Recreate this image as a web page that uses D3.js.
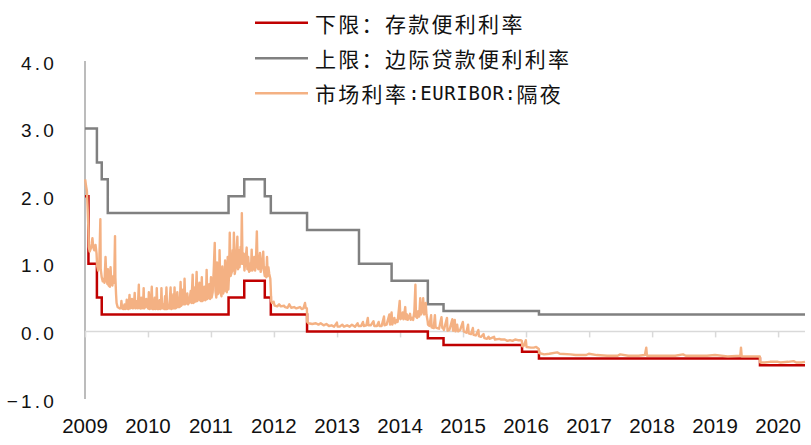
<!DOCTYPE html>
<html><head><meta charset="utf-8">
<script src="https://cdn.jsdelivr.net/npm/d3@7"></script>
<style>html,body{margin:0;padding:0;background:#fff;}svg{display:block;}</style>
</head><body>
<svg id="chart" width="811" height="445"></svg>
<script>
// ---------- DATA ----------
const yearTicks = ["2009","2010","2011","2012","2013","2014","2015","2016","2017","2018","2019","2020"];
const yTicks = [-1, 0, 1, 2, 3, 4];
const seriesNames = ["下限：存款便利利率", "上限：边际贷款便利利率", "市场利率:EURIBOR:隔夜"];

const lowerDates = ["2009-01-01","2009-01-21","2009-03-11","2009-04-08","2011-04-13","2011-07-13","2011-11-09","2011-12-14","2012-07-11","2014-06-11","2014-09-10","2015-12-09","2016-03-16","2019-09-18","2020-06-05"];
const lowerValues = [2.00,1.00,0.50,0.25,0.50,0.75,0.50,0.25,0.00,-0.10,-0.20,-0.30,-0.40,-0.50,-0.50];

const upperDates = ["2009-01-01","2009-03-11","2009-04-08","2009-05-13","2011-04-13","2011-07-13","2011-11-09","2011-12-14","2012-07-11","2013-05-08","2013-11-13","2014-06-11","2014-09-10","2016-03-16","2020-06-05"];
const upperValues = [3.00,2.50,2.25,1.75,2.00,2.25,2.00,1.75,1.50,1.00,0.75,0.40,0.30,0.25,0.25];

const euribor = [
["2009-01-02",2.25],["2009-01-07",2.15],["2009-01-12",2.08],["2009-01-16",1.85],["2009-01-21",1.50],["2009-01-23",1.25],["2009-01-28",1.18],
["2009-02-03",1.22],["2009-02-09",1.30],["2009-02-13",1.38],["2009-02-18",1.24],["2009-02-24",1.20],
["2009-03-03",1.28],["2009-03-09",1.15],["2009-03-12",0.98],["2009-03-18",0.90],["2009-03-25",1.02],["2009-03-31",1.66],["2009-04-02",0.92],
["2009-04-08",0.80],["2009-04-14",0.74],["2009-04-20",0.78],["2009-04-24",0.72],["2009-04-30",1.10],["2009-05-05",0.78],
["2009-05-11",0.70],["2009-05-14",0.92],["2009-05-18",0.68],["2009-05-25",0.66],["2009-05-29",0.95],["2009-06-03",0.70],
["2009-06-09",0.68],["2009-06-15",0.82],["2009-06-19",0.72],["2009-06-24",1.41],["2009-06-26",0.80],["2009-06-30",0.55],
["2009-07-03",0.42],["2009-07-09",0.36],["2009-07-15",0.35],["2009-07-22",0.34],["2009-07-28",0.35],["2009-07-31",0.45],["2009-08-04",0.34],
["2009-08-12",0.33],["2009-08-18",0.40],["2009-08-21",0.33],["2009-08-27",0.34],["2009-08-31",0.47],["2009-09-03",0.34],
["2009-09-10",0.33],["2009-09-16",0.54],["2009-09-19",0.34],["2009-09-25",0.35],["2009-09-30",0.48],["2009-10-05",0.34],
["2009-10-11",0.36],["2009-10-16",0.57],["2009-10-20",0.34],["2009-10-26",0.35],["2009-10-30",0.45],["2009-11-03",0.34],
["2009-11-09",0.69],["2009-11-12",0.35],["2009-11-18",0.34],["2009-11-23",0.50],["2009-11-26",0.34],
["2009-12-03",0.35],["2009-12-07",0.64],["2009-12-10",0.34],["2009-12-16",0.36],["2009-12-22",0.48],["2009-12-28",0.36],
["2010-01-02",0.34],["2010-01-06",0.58],["2010-01-10",0.33],["2010-01-16",0.34],["2010-01-23",0.66],["2010-01-27",0.33],
["2010-02-03",0.33],["2010-02-09",0.50],["2010-02-13",0.33],["2010-02-18",0.34],["2010-02-21",0.64],["2010-02-25",0.33],
["2010-03-03",0.33],["2010-03-09",0.46],["2010-03-13",0.33],["2010-03-17",0.34],["2010-03-20",0.64],["2010-03-24",0.34],["2010-03-31",0.40],
["2010-04-05",0.33],["2010-04-10",0.52],["2010-04-14",0.33],["2010-04-18",0.65],["2010-04-22",0.33],["2010-04-28",0.35],
["2010-05-03",0.34],["2010-05-08",0.48],["2010-05-12",0.65],["2010-05-16",0.33],["2010-05-22",0.34],["2010-05-28",0.55],
["2010-06-01",0.34],["2010-06-04",0.65],["2010-06-08",0.34],["2010-06-14",0.35],["2010-06-20",0.58],["2010-06-25",0.36],["2010-06-30",0.50],
["2010-07-04",0.36],["2010-07-09",0.73],["2010-07-13",0.38],["2010-07-18",0.40],["2010-07-24",0.62],["2010-07-28",0.40],
["2010-08-01",0.78],["2010-08-05",0.40],["2010-08-11",0.42],["2010-08-17",0.56],["2010-08-21",0.40],["2010-08-28",0.43],
["2010-09-06",0.60],["2010-09-10",0.42],["2010-09-17",0.84],["2010-09-21",0.42],["2010-09-27",0.44],["2010-09-30",0.65],
["2010-10-04",0.44],["2010-10-10",0.88],["2010-10-14",0.45],["2010-10-20",0.48],["2010-10-26",0.72],["2010-10-30",0.46],
["2010-11-04",0.45],["2010-11-09",0.80],["2010-11-13",0.45],["2010-11-19",0.48],["2010-11-24",0.66],["2010-11-28",0.46],
["2010-12-03",0.47],["2010-12-07",0.91],["2010-12-11",0.48],["2010-12-17",0.50],["2010-12-22",0.70],["2010-12-27",0.48],
["2011-01-01",0.80],["2011-01-05",0.50],["2011-01-11",0.58],["2011-01-17",0.90],["2011-01-23",1.31],["2011-01-27",0.60],
["2011-02-01",0.50],["2011-02-05",1.02],["2011-02-10",0.55],["2011-02-16",0.60],["2011-02-20",1.20],["2011-02-25",0.58],
["2011-03-03",0.52],["2011-03-08",0.96],["2011-03-13",0.56],["2011-03-19",0.62],["2011-03-24",1.05],["2011-03-29",0.60],
["2011-04-03",0.58],["2011-04-08",1.10],["2011-04-12",0.62],["2011-04-16",0.85],["2011-04-20",1.46],["2011-04-25",0.82],
["2011-05-02",0.88],["2011-05-07",1.20],["2011-05-10",0.90],["2011-05-14",1.46],["2011-05-19",0.85],["2011-05-25",0.95],
["2011-06-03",1.40],["2011-06-07",0.92],["2011-06-12",1.20],["2011-06-16",0.95],["2011-06-22",1.25],["2011-06-25",1.00],["2011-06-29",1.75],["2011-07-03",1.00],
["2011-07-10",1.15],["2011-07-14",0.90],["2011-07-20",1.05],["2011-07-27",1.24],["2011-07-31",0.92],
["2011-08-05",1.10],["2011-08-10",0.88],["2011-08-16",1.00],["2011-08-21",0.90],["2011-08-25",1.21],["2011-08-29",0.90],
["2011-09-04",0.95],["2011-09-09",1.10],["2011-09-14",0.90],["2011-09-19",1.05],["2011-09-24",1.48],["2011-09-28",0.95],
["2011-10-03",0.92],["2011-10-08",1.05],["2011-10-12",1.16],["2011-10-16",0.88],["2011-10-22",0.95],["2011-10-31",1.18],
["2011-11-04",0.90],["2011-11-09",0.82],["2011-11-14",0.95],["2011-11-18",0.80],["2011-11-22",1.10],["2011-11-26",0.82],["2011-11-30",0.95],
["2011-12-05",0.85],["2011-12-11",0.78],["2011-12-14",0.60],["2011-12-16",0.45],["2011-12-21",0.42],["2011-12-30",0.44],
["2012-01-05",0.38],["2012-01-20",0.37],["2012-01-31",0.40],["2012-02-10",0.37],["2012-02-29",0.38],["2012-03-05",0.36],["2012-03-20",0.35],["2012-03-30",0.40],
["2012-04-10",0.35],["2012-04-27",0.36],["2012-05-10",0.34],["2012-05-31",0.36],["2012-06-10",0.33],["2012-06-20",0.34],["2012-06-29",0.42],["2012-07-03",0.35],["2012-07-10",0.34],
["2012-07-12",0.14],["2012-07-20",0.12],["2012-08-10",0.11],["2012-08-31",0.12],["2012-09-15",0.10],["2012-09-28",0.12],["2012-10-15",0.09],["2012-10-31",0.11],
["2012-11-15",0.08],["2012-11-30",0.09],["2012-12-15",0.07],["2012-12-31",0.13],
["2013-01-04",0.07],["2013-01-15",0.07],["2013-01-31",0.10],["2013-02-10",0.07],["2013-02-28",0.09],["2013-03-15",0.07],["2013-03-28",0.10],["2013-04-15",0.07],["2013-04-30",0.12],
["2013-05-05",0.08],["2013-05-20",0.08],["2013-05-31",0.14],["2013-06-05",0.08],["2013-06-20",0.09],["2013-06-28",0.20],["2013-07-02",0.09],["2013-07-15",0.09],["2013-07-31",0.15],
["2013-08-05",0.08],["2013-08-20",0.08],["2013-08-30",0.14],["2013-09-04",0.08],["2013-09-16",0.08],["2013-09-30",0.22],["2013-10-03",0.09],["2013-10-15",0.10],["2013-10-31",0.25],
["2013-11-04",0.10],["2013-11-13",0.28],["2013-11-17",0.10],["2013-11-29",0.20],["2013-12-04",0.12],["2013-12-13",0.17],["2013-12-18",0.14],["2013-12-30",0.45],
["2014-01-03",0.18],["2014-01-10",0.20],["2014-01-16",0.28],["2014-01-21",0.18],["2014-01-31",0.36],["2014-02-04",0.18],["2014-02-10",0.25],["2014-02-14",0.17],["2014-02-20",0.20],["2014-02-28",0.26],
["2014-03-04",0.17],["2014-03-12",0.20],["2014-03-18",0.17],["2014-03-25",0.30],["2014-03-31",0.69],["2014-04-03",0.22],["2014-04-10",0.20],["2014-04-16",0.30],["2014-04-22",0.22],["2014-04-28",0.49],
["2014-05-02",0.25],["2014-05-09",0.30],["2014-05-15",0.49],["2014-05-20",0.25],["2014-05-26",0.27],["2014-05-30",0.42],["2014-06-03",0.25],["2014-06-10",0.15],
["2014-06-12",0.10],["2014-06-20",0.08],["2014-06-30",0.24],["2014-07-03",0.06],["2014-07-15",0.05],["2014-07-22",0.24],["2014-07-26",0.06],["2014-08-05",0.05],["2014-08-15",0.04],["2014-08-29",0.21],
["2014-09-03",0.05],["2014-09-10",0.04],["2014-09-12",0.02],["2014-09-30",0.20],["2014-10-03",0.01],["2014-10-14",0.02],["2014-10-31",0.18],["2014-11-04",0.01],["2014-11-14",0.17],["2014-11-18",0.00],
["2014-11-28",0.10],["2014-12-03",0.00],["2014-12-15",0.02],["2014-12-31",0.14],
["2015-01-05",0.00],["2015-01-20",-0.02],["2015-01-30",0.10],["2015-02-03",-0.03],["2015-02-16",-0.04],["2015-02-27",0.05],["2015-03-03",-0.05],["2015-03-16",-0.06],["2015-03-31",0.02],
["2015-04-03",-0.07],["2015-04-15",-0.08],["2015-04-30",-0.04],["2015-05-05",-0.10],["2015-05-20",-0.11],["2015-05-29",-0.08],["2015-06-03",-0.11],["2015-06-30",-0.08],["2015-07-05",-0.12],
["2015-07-31",-0.11],["2015-08-10",-0.12],["2015-08-31",-0.12],["2015-09-15",-0.14],["2015-09-30",-0.13],["2015-10-15",-0.14],["2015-10-30",-0.12],["2015-11-15",-0.13],["2015-11-30",-0.13],
["2015-12-08",-0.14],["2015-12-10",-0.22],["2015-12-20",-0.21],["2015-12-31",-0.13],
["2016-01-04",-0.23],["2016-01-29",-0.24],["2016-02-15",-0.24],["2016-02-29",-0.23],["2016-03-15",-0.26],["2016-03-17",-0.32],["2016-04-15",-0.34],["2016-05-15",-0.33],["2016-06-30",-0.31],
["2016-07-15",-0.33],["2016-09-15",-0.34],["2016-10-15",-0.35],["2016-12-15",-0.35],["2016-12-30",-0.33],
["2017-02-15",-0.35],["2017-04-15",-0.36],["2017-06-15",-0.36],["2017-06-30",-0.34],["2017-08-15",-0.36],["2017-10-15",-0.36],["2017-11-20",-0.35],["2017-11-28",-0.24],["2017-12-02",-0.36],
["2018-03-15",-0.36],["2018-05-15",-0.36],["2018-06-29",-0.34],["2018-07-15",-0.36],["2018-09-15",-0.36],["2018-11-15",-0.36],["2018-12-31",-0.35],
["2019-03-15",-0.37],["2019-05-27",-0.36],["2019-05-31",-0.24],["2019-06-04",-0.37],["2019-07-15",-0.37],["2019-09-17",-0.37],["2019-09-19",-0.46],["2019-10-15",-0.46],
["2019-11-15",-0.45],["2019-12-31",-0.45],["2020-01-15",-0.46],["2020-02-28",-0.45],["2020-03-31",-0.44],["2020-04-15",-0.46],["2020-05-15",-0.46],["2020-06-05",-0.45]
];

const colors = ["#c00000", "#808080", "#f4b183"];

// ---------- CHART ----------
const parse = d3.timeParse("%Y-%m-%d");
const svg = d3.select("#chart");
const x = d3.scaleTime().domain([parse("2009-01-01"), parse("2020-06-05")]).range([85, 805]);
const y = d3.scaleLinear().domain([-1, 4]).range([399, 61]);

// y axis line
svg.append("line").attr("x1", x.range()[0]).attr("x2", x.range()[0])
  .attr("y1", y(4)).attr("y2", y(-1)).attr("stroke", "#a6a6a6").attr("stroke-width", 1.5);

// y labels
svg.append("g").selectAll("text").data(yTicks).join("text")
  .attr("x", 57).attr("y", d => y(d) + 2)
  .attr("text-anchor", "end").attr("dominant-baseline", "central")
  .style("font-family", "'Liberation Sans', Arial, sans-serif").style("font-size", "19px")
  .style("letter-spacing", "3.2px").attr("fill", "#111")
  .text(d => (d < 0 ? "\u2212" : "") + d3.format(".1f")(Math.abs(d)));

// zero line (category axis) with ticks
const xAxis = d3.axisBottom(x)
  .tickValues(yearTicks.map(t => parse(t + "-01-01")))
  .tickSize(6).tickFormat("");
const gx = svg.append("g").attr("transform", `translate(0,${y(0)})`).call(xAxis);
gx.select(".domain").attr("stroke", "#d9d9d9").attr("stroke-width", 1.5).attr("d", `M${x.range()[0]},0H${x.range()[1]}`);
gx.selectAll(".tick line").attr("stroke", "#d9d9d9").attr("stroke-width", 1.5);

// x labels
svg.append("g").selectAll("text").data(yearTicks).join("text")
  .attr("x", d => x(parse(d + "-01-01"))).attr("y", 433)
  .attr("text-anchor", "middle")
  .style("font-family", "'Liberation Sans', Arial, sans-serif").style("font-size", "20.5px")
  .attr("fill", "#111").text(d => d);

// series
const stepLine = d3.line().x(d => x(d[0])).y(d => y(d[1])).curve(d3.curveStepAfter);
const plainLine = d3.line().x(d => x(d[0])).y(d => y(d[1]));

const upperData = upperDates.map((d, i) => [parse(d), upperValues[i]]);
const lowerData = lowerDates.map((d, i) => [parse(d), lowerValues[i]]);
const euriborData = euribor.map(d => [parse(d[0]), d[1]]);

svg.append("path").datum(upperData).attr("d", stepLine)
  .attr("fill", "none").attr("stroke", colors[1]).attr("stroke-width", 2.5);
svg.append("path").datum(lowerData).attr("d", stepLine)
  .attr("fill", "none").attr("stroke", colors[0]).attr("stroke-width", 2.5);
svg.append("path").datum(euriborData).attr("d", plainLine)
  .attr("fill", "none").attr("stroke", colors[2]).attr("stroke-width", 2.4).attr("stroke-linejoin", "round");

// legend
const legY = [22.7, 58.3, 93.3];
const leg = svg.append("g");
seriesNames.forEach((name, i) => {
  leg.append("line").attr("x1", 255).attr("x2", 308).attr("y1", legY[i]).attr("y2", legY[i])
    .attr("stroke", colors[i]).attr("stroke-width", 2.5);
  const t = leg.append("text").attr("x", 315).attr("y", legY[i])
    .attr("dominant-baseline", "central")
    .style("font-family", "'Noto Sans CJK SC', sans-serif").style("font-size", "21px")
    .style("letter-spacing", "2.3px").attr("fill", "#111");
  const parts = name.split(/(:EURIBOR:)/);
  parts.forEach(p => {
    if (p === ":EURIBOR:") {
      t.append("tspan").text(p).style("font-family", "'DejaVu Sans Mono', monospace")
        .style("font-size", "19px").style("letter-spacing", "0.6px");
    } else if (p) {
      t.append("tspan").text(p);
    }
  });
});
</script>
</body></html>
